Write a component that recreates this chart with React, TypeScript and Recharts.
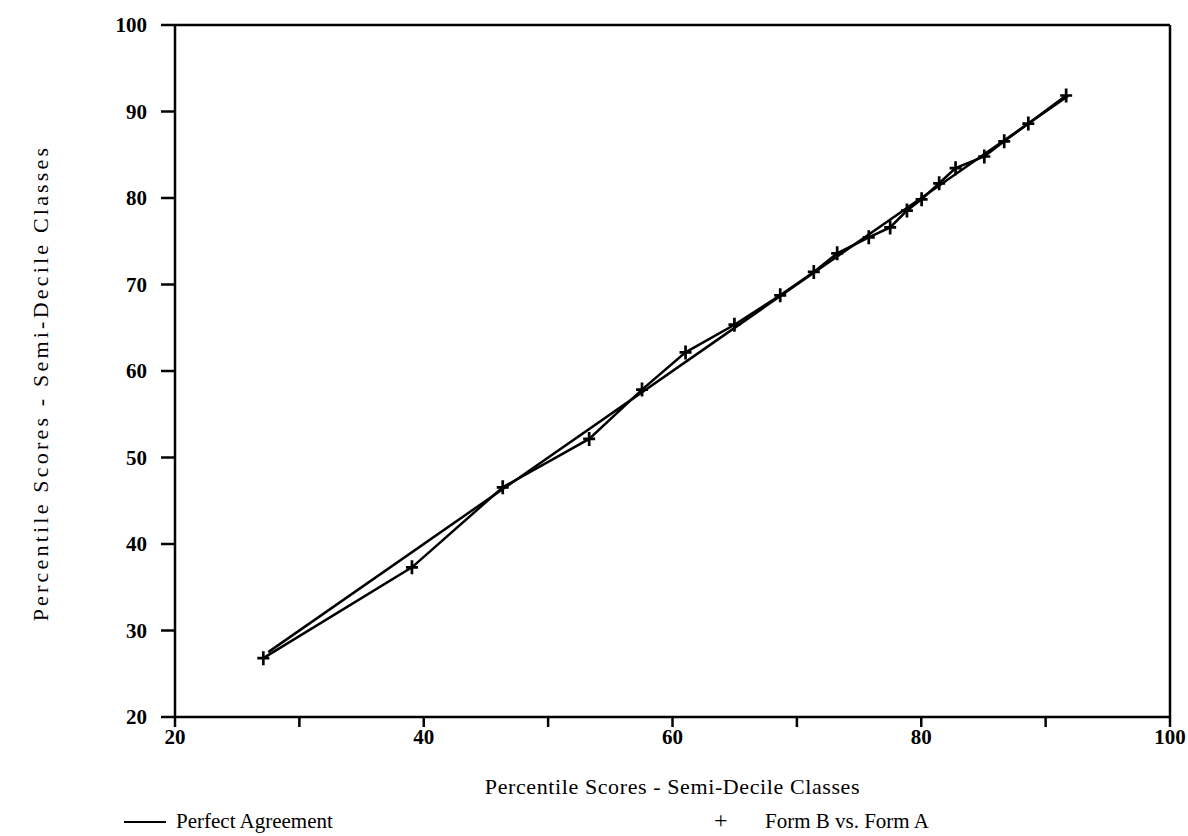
import React from "react"
import { ComposedChart, Line, XAxis, YAxis, ReferenceLine, Legend, Label } from "recharts"

// Form B vs. Form A, percentile scores by semi-decile class
const formAScores = [27.1, 39.05, 46.35, 53.3, 57.55, 61.05, 64.98, 68.66, 71.36, 73.24, 75.78, 77.5, 78.85, 80.03, 81.44, 82.76, 85.07, 86.67, 88.61, 91.65]
const formBScores = [26.8, 37.3, 46.55, 52.15, 57.85, 62.15, 65.35, 68.75, 71.45, 73.6, 75.45, 76.6, 78.55, 79.85, 81.7, 83.45, 84.8, 86.55, 88.6, 91.85]

// perfect agreement line endpoints (y = x)
const perfectScores = [27.5, 91.8]

const xTicks = [20, 30, 40, 50, 60, 70, 80, 90, 100]
const yTicks = [20, 30, 40, 50, 60, 70, 80, 90, 100]

const axisTitle = "Percentile Scores - Semi-Decile Classes"
const legendLine = "Perfect Agreement"
const legendPoints = "Form B vs. Form A"

const font = "'Liberation Serif', 'Times New Roman', serif"

const formData = formAScores.map((x, i) => ({ x, y: formBScores[i] }))
const perfectData = perfectScores.map((v) => ({ x: v, y: v }))

const Plus = (props: any) => {
  const { cx, cy, index } = props
  if (cx == null || cy == null) return null
  return (
    <path
      key={index}
      d={`M${cx - 6},${cy}H${cx + 6}M${cx},${cy - 7}V${cy + 7}`}
      stroke="#000"
      strokeWidth={2.7}
      fill="none"
    />
  )
}

const YTitle = () => (
  <text
    x={40}
    y={383}
    transform="rotate(-90 40 383)"
    textAnchor="middle"
    dominantBaseline="central"
    fontFamily={font}
    fontSize={22}
    letterSpacing={3.2}
    fill="#000"
  >
    {axisTitle}
  </text>
)

const LegendBox = () => (
  <div style={{ position: "relative", height: 34, fontFamily: font, fontSize: 21, color: "#000" }}>
    <div style={{ position: "absolute", left: 124, top: 16, width: 42, height: 2, background: "#000" }} />
    <span style={{ position: "absolute", left: 176, top: 4, whiteSpace: "nowrap" }}>{legendLine}</span>
    <span style={{ position: "absolute", left: 714, top: 2, fontSize: 24 }}>+</span>
    <span style={{ position: "absolute", left: 765, top: 4, whiteSpace: "nowrap" }}>{legendPoints}</span>
  </div>
)

const tickStyle = { fill: "#000", fontSize: 21, fontFamily: font, fontWeight: 600 }

export default function App() {
  return (
    <div style={{ position: "absolute", left: 0, top: 0, background: "#fff" }}>
      <ComposedChart width={1188} height={836} margin={{ top: 25, right: 18, bottom: 0, left: 0 }}>
        <XAxis
          type="number"
          dataKey="x"
          domain={[20, 100]}
          ticks={xTicks}
          interval={0}
          tickFormatter={(v: number) => (v % 20 === 0 ? String(v) : "")}
          height={119}
          tickSize={10}
          tickMargin={2}
          tick={tickStyle}
          axisLine={{ stroke: "#000", strokeWidth: 2.5 }}
          tickLine={{ stroke: "#000", strokeWidth: 2.5 }}
          allowDataOverflow
        >
          <Label value={axisTitle} position="insideBottom" offset={42} fontFamily={font} fontSize={22} letterSpacing={0.6} fill="#000" />
        </XAxis>
        <YAxis
          type="number"
          domain={[20, 100]}
          ticks={yTicks}
          interval={0}
          width={175}
          tickSize={14}
          tickMargin={14}
          tick={tickStyle}
          axisLine={{ stroke: "#000", strokeWidth: 2.5 }}
          tickLine={{ stroke: "#000", strokeWidth: 2.5 }}
          allowDataOverflow
        >
          <Label content={<YTitle />} />
        </YAxis>
        <ReferenceLine y={100} stroke="#000" strokeWidth={2.5} />
        <ReferenceLine x={100} stroke="#000" strokeWidth={2.5} />
        <Line
          data={perfectData}
          dataKey="y"
          name={legendLine}
          type="linear"
          stroke="#000"
          strokeWidth={2.5}
          dot={false}
          activeDot={false}
          isAnimationActive={false}
        />
        <Line
          data={formData}
          dataKey="y"
          name={legendPoints}
          type="linear"
          stroke="#000"
          strokeWidth={2.5}
          dot={<Plus />}
          activeDot={false}
          isAnimationActive={false}
        />
        <Legend
          layout="horizontal"
          verticalAlign="middle"
          content={<LegendBox />}
          wrapperStyle={{ top: 805, left: 0, width: 1188 }}
        />
      </ComposedChart>
    </div>
  )
}
